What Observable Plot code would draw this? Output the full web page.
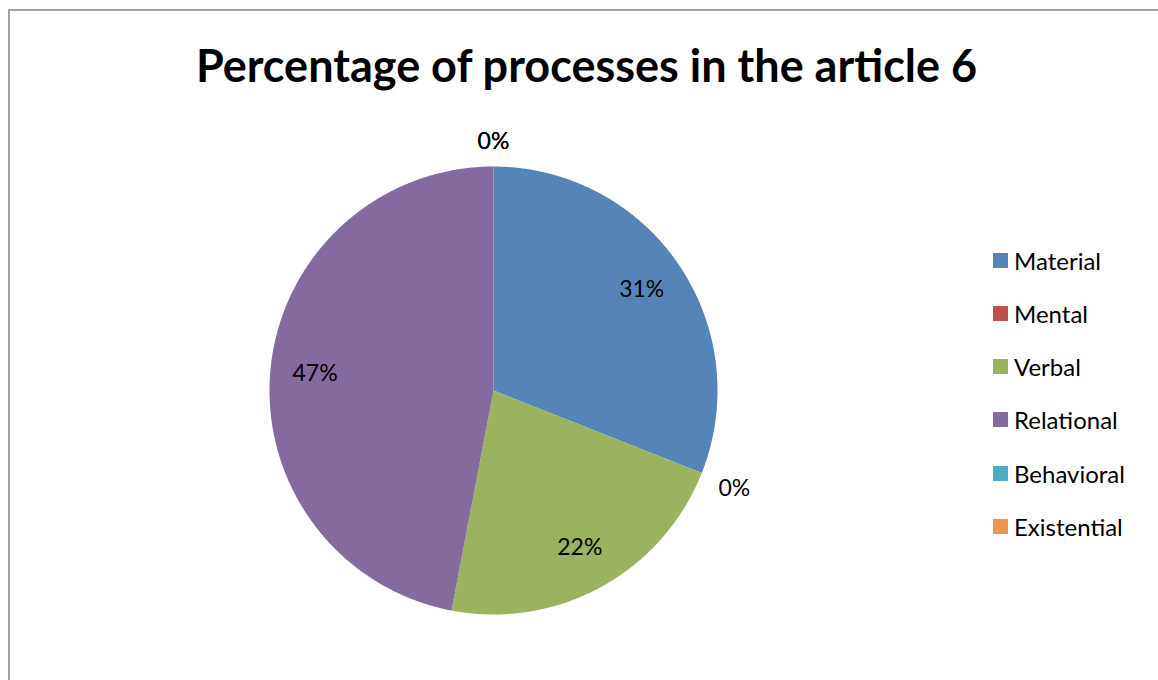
<!DOCTYPE html>
<html>
<head>
<meta charset="utf-8">
<script src="https://cdn.jsdelivr.net/npm/d3@7"></script>
<script src="https://cdn.jsdelivr.net/npm/@observablehq/plot@0.6"></script>
<style>
  html, body { margin: 0; padding: 0; background: #fff; }
  #page { position: relative; width: 1158px; height: 680px; overflow: hidden; font-family: Lato, "Open Sans", sans-serif; color: #000; }
  #frame { position: absolute; left: 8px; top: 9px; width: 1200px; height: 700px; border-left: 2px solid #a3a3a3; border-top: 2px solid #a3a3a3; box-sizing: border-box; }
  #title { position: absolute; left: 0; width: 1173px; top: 43px; text-align: center; font-weight: 700; font-size: 45px; line-height: 45px; white-space: nowrap; }
  #chart { position: absolute; left: 193px; top: 110px; }
  .item { position: absolute; left: 993px; height: 30px; display: flex; align-items: center; font-size: 24px; white-space: nowrap; }
  .sw { width: 15px; height: 15px; margin-right: 6px; flex: none; }
</style>
</head>
<body>
<div id="page">
  <div id="frame"></div>
  <div id="title">Percentage of processes in the article 6</div>
  <div id="chart"></div>
  <div id="legend"></div>
</div>
<script>
const categories = ["Material", "Mental", "Verbal", "Relational", "Behavioral", "Existential"];
const values = [31, 0, 22, 47, 0, 0];
const labels = ["31%", "0%", "22%", "47%", "0%", "0%"];
const colors = ["#5585B8", "#BE504D", "#9BB25E", "#856AA0", "#4BACC6", "#F0954A"];

const data = categories.map((name, i) => ({name, value: values[i], label: labels[i]}));
const arcs = d3.pie().sort(null).value(d => d.value)(data);

// slice polygons in unit-circle space
const slicePts = [];
for (const a of arcs) {
  if (a.data.value <= 0) continue;
  const n = Math.max(2, Math.ceil((a.endAngle - a.startAngle) / 0.005));
  slicePts.push({name: a.data.name, x: 0, y: 0});
  for (let k = 0; k <= n; k++) {
    const t = a.startAngle + (a.endAngle - a.startAngle) * k / n;
    slicePts.push({name: a.data.name, x: Math.sin(t), y: Math.cos(t)});
  }
  slicePts.push({name: a.data.name, x: 0, y: 0});
}

// label positions
const labelPts = arcs.map(a => {
  const mid = (a.startAngle + a.endAngle) / 2;
  const inside = a.data.value > 0;
  const r = inside ? 0.8 : 1.08;
  const s = Math.sin(mid), c = Math.cos(mid);
  return {
    label: a.data.label,
    x: r * s, y: r * c, inside,
    h: s > 0.3 ? "start" : s < -0.3 ? "end" : "middle",
    v: c > 0.3 ? "bottom" : c < -0.3 ? "top" : "middle"
  };
});

const textMarks = [];
for (const h of ["start", "middle", "end"]) {
  for (const v of ["top", "middle", "bottom"]) {
    textMarks.push(Plot.text(labelPts, {
      filter: d => (d.inside ? (h === "middle" && v === "middle") : (d.h === h && d.v === v)),
      x: "x", y: "y", text: "label",
      textAnchor: h, lineAnchor: v,
      fontSize: 23, fill: "#000", fontFamily: "Lato, 'Open Sans', sans-serif"
    }));
  }
}

const chart = Plot.plot({
  width: 600,
  height: 560,
  marginLeft: 76, marginRight: 76, marginTop: 56, marginBottom: 56,
  x: {domain: [-1, 1], axis: null},
  y: {domain: [-1, 1], axis: null},
  color: {domain: categories, range: colors},
  style: {background: "transparent", overflow: "visible"},
  marks: [
    Plot.line(slicePts, {x: "x", y: "y", z: "name", fill: "name", stroke: "none", curve: "linear"}),
    ...textMarks
  ]
});
document.getElementById("chart").appendChild(chart);

// legend
const legend = document.getElementById("legend");
const centers = [260, 313, 366, 419, 473, 526];
categories.forEach((name, i) => {
  const el = document.createElement("div");
  el.className = "item";
  el.style.top = (centers[i] - 15) + "px";
  const sw = document.createElement("span");
  sw.className = "sw";
  sw.style.background = colors[i];
  el.appendChild(sw);
  el.appendChild(document.createTextNode(name));
  legend.appendChild(el);
});
</script>
</body>
</html>
